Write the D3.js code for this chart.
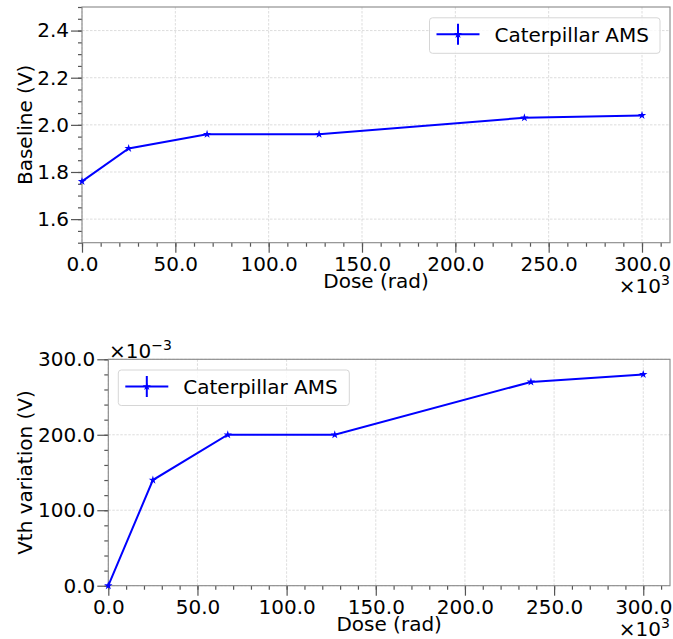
<!DOCTYPE html>
<html><head><meta charset="utf-8">
<script src="https://cdn.jsdelivr.net/npm/d3@7"></script>
<style>body{margin:0;background:#fff}svg{display:block}text{font-family:"DejaVu Sans",sans-serif;fill:#000}</style>
</head><body>
<svg id="c" width="673" height="639"></svg>
<script>
// Data
const doseRad = [0, 25000, 67000, 127000, 237000, 300000];
const baselineV = [1.76, 1.90, 1.96, 1.96, 2.03, 2.04];
const vthVariationV = [0.0, 0.14, 0.20, 0.20, 0.27, 0.28];
const seriesName = "Caterpillar AMS";
const xTicks = [0, 50000, 100000, 150000, 200000, 250000, 300000];
const baselineTicks = [1.6, 1.8, 2.0, 2.2, 2.4];
const vthTicks = [0, 0.1, 0.2, 0.3];

const svg = d3.select("#c");
const blue = "#0000ff";

function panel(o) {
  const x = d3.scaleLinear().domain([0, 315000]).range([o.left, o.right]);
  const y = d3.scaleLinear().domain(o.ydom).range([o.bottom, o.top]);
  const g = svg.append("g");
  // grid
  g.selectAll(".gx").data(o.xTicks).join("line")
    .attr("x1", d => x(d)).attr("x2", d => x(d)).attr("y1", o.top).attr("y2", o.bottom)
    .attr("stroke", "#d4d4d4").attr("stroke-width", 0.8).attr("stroke-dasharray", "2.5,1.5");
  g.selectAll(".gy").data(o.yTicks).join("line")
    .attr("y1", d => y(d)).attr("y2", d => y(d)).attr("x1", o.left).attr("x2", o.right)
    .attr("stroke", "#d4d4d4").attr("stroke-width", 0.8).attr("stroke-dasharray", "2.5,1.5");
  // axes
  const xAxis = d3.axisBottom(x).tickValues(o.xTicks).tickSize(10).tickPadding(4)
    .tickFormat(d => (d / 1000).toFixed(1));
  const xMinor = d3.axisBottom(x).tickValues(d3.range(0, 315001, 10000)).tickSize(4).tickFormat("");
  const yAxis = d3.axisLeft(y).tickValues(o.yTicks).tickSize(11).tickPadding(2).tickFormat(o.yfmt);
  const yMinor = d3.axisLeft(y).tickValues(o.yMinor).tickSize(4).tickFormat("");
  [[xMinor, "b"], [xAxis, "b"], [yMinor, "l"], [yAxis, "l"]].forEach(([ax, side]) => {
    const a = g.append("g")
      .attr("transform", side === "b" ? `translate(0,${o.bottom})` : `translate(${o.left},0)`)
      .call(ax);
    a.select(".domain").remove();
    a.selectAll(".tick line").attr("stroke", "#555").attr("stroke-width", 1.2);
    a.selectAll(".tick text").style("font-size", "20px").attr("fill", "#000");
  });
  // frame
  g.append("rect").attr("x", o.left).attr("y", o.top).attr("width", o.right - o.left)
    .attr("height", o.bottom - o.top).attr("fill", "none").attr("stroke", "#888").attr("stroke-width", 1.1);
  // line
  const pts = doseRad.map((d, i) => [d, o.values[i]]);
  g.append("path").datum(pts)
    .attr("d", d3.line().x(d => x(d[0])).y(d => y(d[1])))
    .attr("fill", "none").attr("stroke", blue).attr("stroke-width", 2);
  g.selectAll(".m").data(pts).join("path")
    .attr("transform", d => `translate(${x(d[0])},${y(d[1])})`)
    .attr("d", d3.symbol(d3.symbolStar, 22)).attr("fill", blue);
  // labels
  g.append("text").attr("x", (o.left + o.right) / 2).attr("y", o.bottom + 45.5)
    .attr("text-anchor", "middle").style("font-size", "20px").text("Dose (rad)");
  g.append("text").attr("transform", `translate(32,${(o.top + o.bottom) / 2}) rotate(-90)`)
    .attr("text-anchor", "middle").style("font-size", "20px").text(o.ylabel);
  // x offset text
  const xo = g.append("text").attr("x", o.right).attr("y", o.bottom + 50)
    .attr("text-anchor", "end").style("font-size", "20px");
  xo.append("tspan").text("\u00d710");
  xo.append("tspan").attr("dy", -8).style("font-size", "14px").text("3");
  // legend
  const L = o.legend;
  g.append("rect").attr("x", L.x).attr("y", L.y).attr("width", L.w).attr("height", 35.5)
    .attr("rx", 3).attr("fill", "#fff").attr("fill-opacity", 0.8).attr("stroke", "#d6d6d6");
  const ly = L.y + 16.5;
  g.append("line").attr("x1", L.x + 7).attr("x2", L.x + 50).attr("y1", ly).attr("y2", ly)
    .attr("stroke", blue).attr("stroke-width", 2);
  g.append("line").attr("x1", L.x + 28.5).attr("x2", L.x + 28.5).attr("y1", ly - 10.5).attr("y2", ly + 10.5)
    .attr("stroke", blue).attr("stroke-width", 2);
  g.append("path").attr("transform", `translate(${L.x + 28.5},${ly})`)
    .attr("d", d3.symbol(d3.symbolStar, 22)).attr("fill", blue);
  g.append("text").attr("x", L.x + 65).attr("y", ly + 7.5).style("font-size", "20px").text(seriesName);
  return {x, y, g};
}

panel({
  left: 82, right: 670, top: 7, bottom: 242.7,
  ydom: [1.5, 2.5], values: baselineV, xTicks, yTicks: baselineTicks,
  yMinor: d3.range(1.5, 2.501, 0.05),
  yfmt: d => d.toFixed(1), ylabel: "Baseline (V)",
  legend: {x: 429.5, y: 17.8, w: 230.5}
});
const p2 = panel({
  left: 108.3, right: 670, top: 359.3, bottom: 585.7,
  ydom: [0, 0.3], values: vthVariationV, xTicks, yTicks: vthTicks,
  yMinor: d3.range(0, 0.3001, 0.02),
  yfmt: d => (d * 1000).toFixed(1), ylabel: "Vth variation (V)",
  legend: {x: 118.3, y: 370, w: 231}
});
const yo = p2.g.append("text").attr("x", 109).attr("y", 357.5).style("font-size", "20px");
yo.append("tspan").text("\u00d710");
yo.append("tspan").attr("dy", -8).style("font-size", "14px").text("\u22123");
</script>
</body></html>
